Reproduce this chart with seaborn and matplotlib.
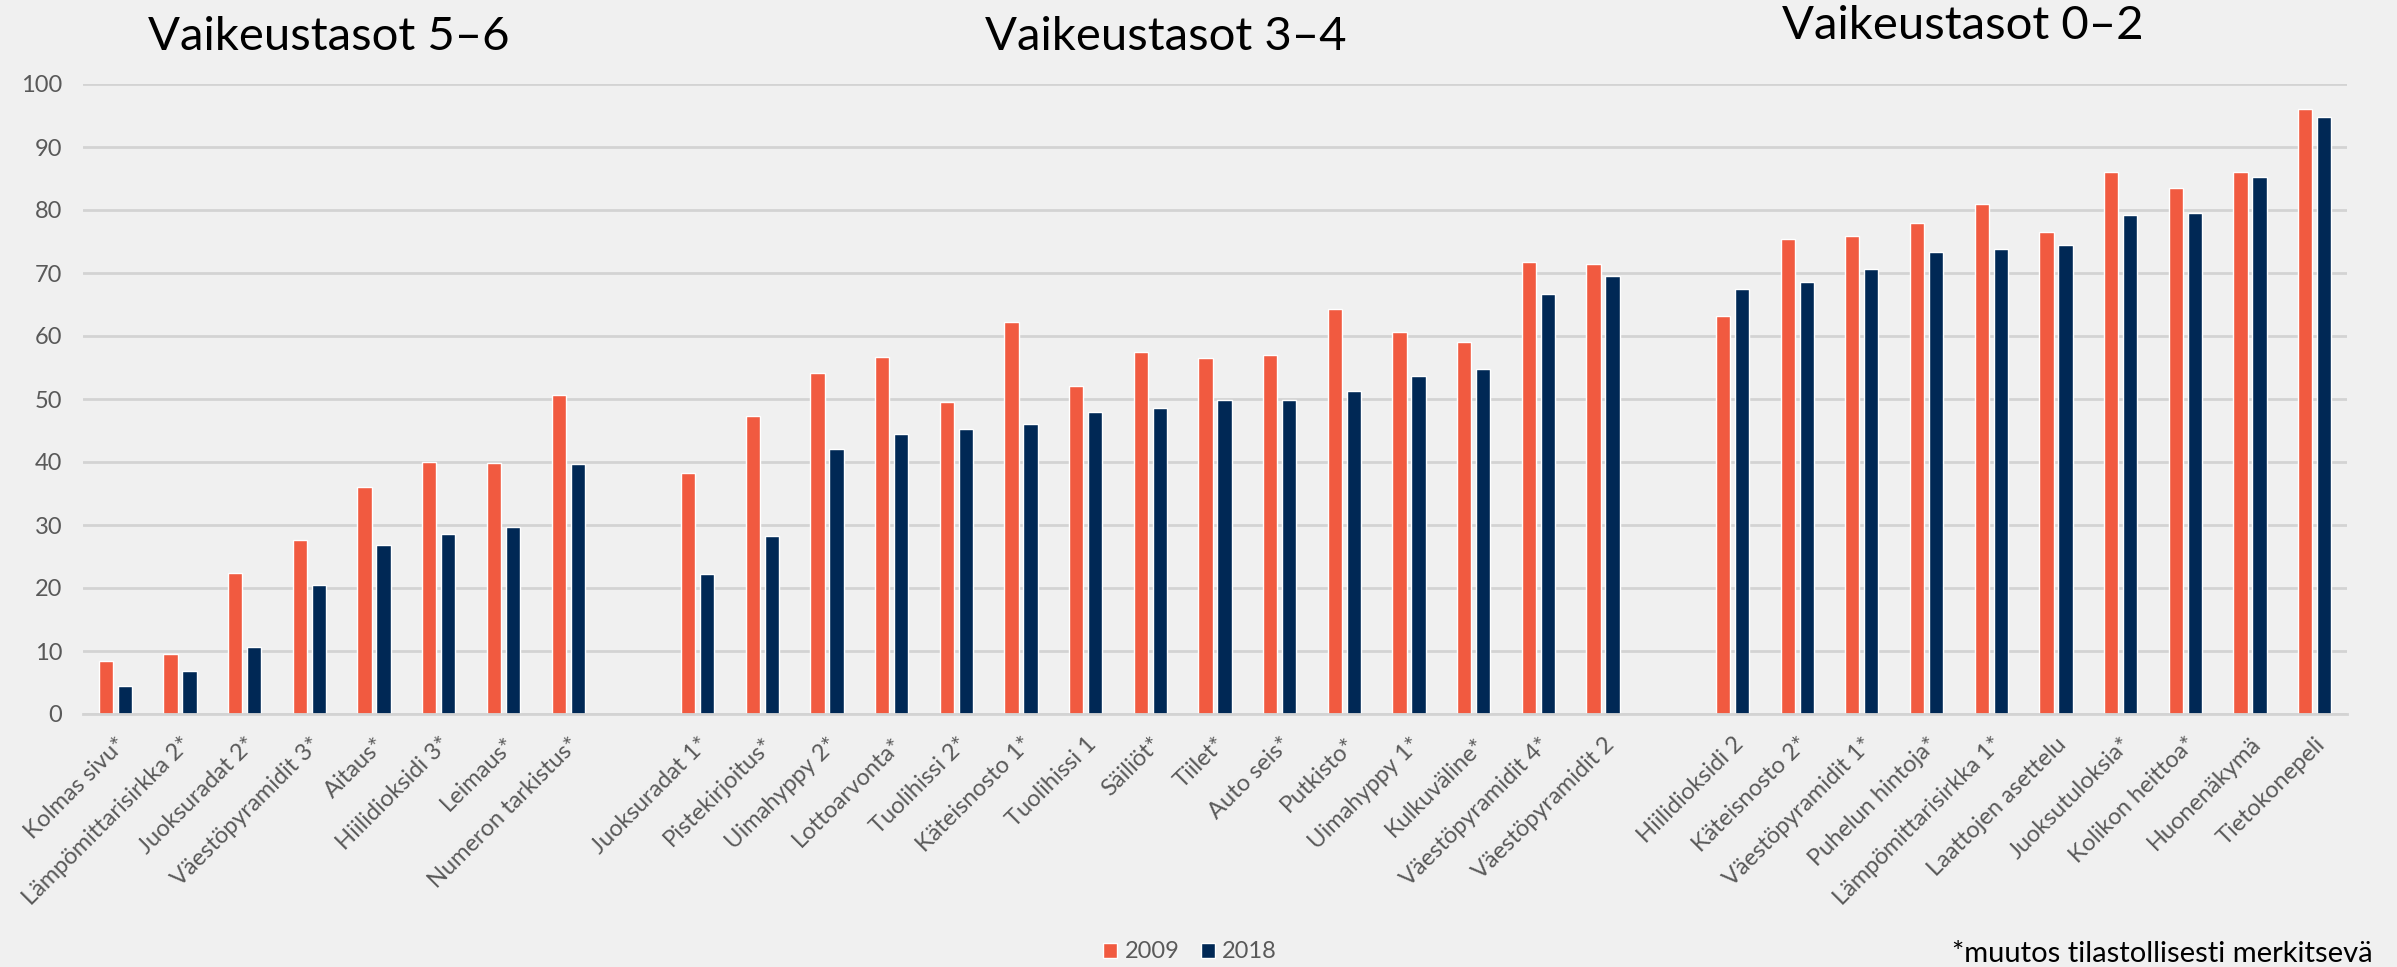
import numpy as np
import pandas as pd
import seaborn as sns
import matplotlib.pyplot as plt

# ---------------- data ----------------
group_titles = ["Vaikeustasot 5–6", "Vaikeustasot 3–4", "Vaikeustasot 0–2"]

cats_56 = ["Kolmas sivu*", "Lämpömittarisirkka 2*", "Juoksuradat 2*", "Väestöpyramidit 3*",
           "Aitaus*", "Hiilidioksidi 3*", "Leimaus*", "Numeron tarkistus*"]
v2009_56 = [8.4, 9.6, 22.4, 27.6, 36.1, 40.0, 39.8, 50.6]
v2018_56 = [4.5, 6.9, 10.6, 20.4, 26.8, 28.5, 29.7, 39.7]

cats_34 = ["Juoksuradat 1*", "Pistekirjoitus*", "Uimahyppy 2*", "Lottoarvonta*", "Tuolihissi 2*",
           "Käteisnosto 1*", "Tuolihissi 1", "Säiliöt*", "Tiilet*", "Auto seis*", "Putkisto*",
           "Uimahyppy 1*", "Kulkuväline*", "Väestöpyramidit 4*", "Väestöpyramidit 2"]
v2009_34 = [38.3, 47.3, 54.1, 56.6, 49.5, 62.2, 52.0, 57.4, 56.5, 57.0, 64.3, 60.6, 59.1, 71.7, 71.5]
v2018_34 = [22.2, 28.3, 42.0, 44.5, 45.2, 46.0, 48.0, 48.5, 49.9, 49.9, 51.2, 53.7, 54.8, 66.7, 69.5]

cats_02 = ["Hiilidioksidi 2", "Käteisnosto 2*", "Väestöpyramidit 1*", "Puhelun hintoja*",
           "Lämpömittarisirkka 1*", "Laattojen asettelu", "Juoksutuloksia*", "Kolikon heittoa*",
           "Huonenäkymä", "Tietokonepeli"]
v2009_02 = [63.2, 75.4, 75.8, 78.0, 81.0, 76.5, 86.0, 83.5, 86.1, 96.1]
v2018_02 = [67.4, 68.5, 70.7, 73.4, 73.8, 74.5, 79.2, 79.5, 85.2, 94.8]

years = ["2009", "2018"]
colors = ["#F15A40", "#002855"]
footnote = "*muutos tilastollisesti merkitsevä"

# ---------------- long table ----------------
cats = cats_56 + cats_34 + cats_02
v2009 = v2009_56 + v2009_34 + v2009_02
v2018 = v2018_56 + v2018_34 + v2018_02
df = pd.DataFrame({
    "tehtävä": cats * 2,
    "vuosi": [years[0]] * len(cats) + [years[1]] * len(cats),
    "arvo": v2009 + v2018,
})
order = cats_56 + ["_gap1"] + cats_34 + ["_gap2"] + cats_02

# ---------------- style ----------------
sns.set_theme(style="white")
bg = "#F0F0F0"
plt.rcParams["font.family"] = ["Lato", "DejaVu Sans"]
plt.rcParams["figure.facecolor"] = bg
plt.rcParams["axes.facecolor"] = bg
plt.rcParams["savefig.facecolor"] = bg

fig = plt.figure(figsize=(23.97, 9.67), dpi=100)
ax = fig.add_axes([83 / 2397, 1 - 714 / 967, (2347 - 83) / 2397, (714 - 84) / 967])

sns.barplot(data=df, x="tehtävä", y="arvo", hue="vuosi", order=order, hue_order=years,
            palette=colors, width=0.588, gap=0.25, ax=ax, saturation=1, errorbar=None)

ax.set_ylim(0, 100)
ax.set_xlim(-0.5, len(order) - 0.5)
ax.set_yticks(np.arange(0, 101, 10))
ax.yaxis.grid(True, color="#D3D3D3", linewidth=2)
ax.set_axisbelow(True)
for s in ["top", "right", "left"]:
    ax.spines[s].set_visible(False)
ax.spines["bottom"].set_color("#D3D3D3")
ax.spines["bottom"].set_linewidth(2)
ax.set_xlabel("")
ax.set_ylabel("")

ax.set_xticks(range(len(order)))
ax.set_xticklabels(["" if o.startswith("_gap") else o for o in order],
                   rotation=45, ha="right", va="top", rotation_mode="anchor",
                   fontsize=17, color="#595959")
ax.tick_params(axis="x", length=0, pad=14)
ax.tick_params(axis="y", length=0, pad=15, labelsize=17, labelcolor="#595959")

sns.move_legend(ax, "center", bbox_to_anchor=(1190 / 2397, 1 - 952 / 967),
                bbox_transform=fig.transFigure, ncol=2, frameon=False, title=None,
                fontsize=17, labelcolor="#595959", handlelength=0.6, handleheight=0.6,
                handletextpad=0.3, columnspacing=0.9)

# group titles
title_pos = [(329, 37), (1166, 37), (1963, 26)]
for t, (px, py) in zip(group_titles, title_pos):
    fig.text(px / 2397, 1 - py / 967, t, ha="center", va="center", fontsize=34, color="black")

fig.text(2373 / 2397, 1 - 962 / 967, footnote, ha="right", va="baseline", fontsize=21, color="black")

fig.savefig("out.png", dpi=100)
